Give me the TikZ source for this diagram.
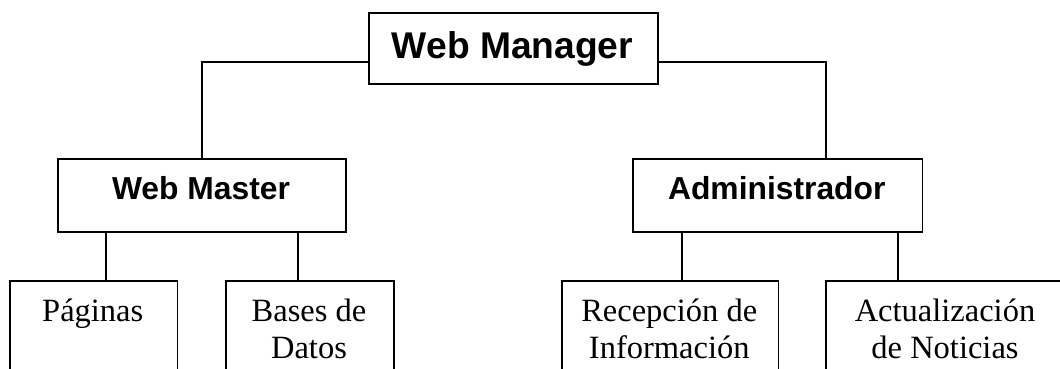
\documentclass[tikz,border=0pt]{standalone}
\usepackage{fontspec}
\setmainfont{Liberation Serif}
\newfontfamily\arialfont{Liberation Sans}
\begin{document}
\begin{tikzpicture}[x=1pt,y=-1pt,
  box/.style={draw, line width=1.8pt, inner sep=0pt, anchor=north west},
  head/.style={font=\arialfont\bfseries\fontsize{31.8}{36}\selectfont, anchor=base, inner sep=0pt},
  leaf/.style={font=\fontsize{32.5}{37.5}\selectfont, anchor=base, inner sep=0pt},
  link/.style={line width=1.8pt}]
\clip (0,0) rectangle (1060,369);
\fill[white] (0,0) rectangle (1060,369);
% boxes
\node[box, minimum width=289pt, minimum height=71pt] (top) at (368,12) {};
\node[box, minimum width=288pt, minimum height=73pt] (wm) at (57,158) {};
\node[box, minimum width=289.5pt, minimum height=73pt] (adm) at (632,158) {};
\node[box, minimum width=167.5pt, minimum height=120pt] (pag) at (9,280) {};
\node[box, minimum width=168pt, minimum height=120pt] (bd) at (225,280) {};
\node[box, minimum width=216.5pt, minimum height=120pt] (rec) at (561,280) {};
\node[box, minimum width=240pt, minimum height=120pt] (act) at (825,280) {};
% texts
\node[head, font=\arialfont\bfseries\fontsize{37.2}{44}\selectfont] (tTop) at (512.5,59) {Web Manager};
\node[head] (tWm) at (201,199.5) {Web Master};
\node[head] (tAdm) at (776.75,199.5) {Administrador};
\node[leaf] (tPag) at (92.75,321) {Páginas};
\node[leaf] (tBd1) at (309,321) {Bases de};
\node[leaf] (tBd2) at (309,358.5) {Datos};
\node[leaf] (tRec1) at (669.25,321) {Recepción de};
\node[leaf] (tRec2) at (669.25,358.5) {Información};
\node[leaf] (tAct1) at (945,321) {Actualización};
\node[leaf] (tAct2) at (945,358.5) {de Noticias};
% connectors
\draw[link] ([yshift=-13.5pt]top.west) -| (wm.north);
\draw[link] ([yshift=-13.5pt]top.east) -| ([xshift=48.25pt]adm.north);
\draw[link] ([xshift=-96pt]wm.south) -- ([xshift=12.25pt]pag.north);
\draw[link] ([xshift=96pt]wm.south) -- ([xshift=-12pt]bd.north);
\draw[link] ([xshift=-95.75pt]adm.south) -- ([xshift=11.75pt]rec.north);
\draw[link] ([xshift=120.25pt]adm.south) -- ([xshift=-48pt]act.north);
\end{tikzpicture}
\end{document}
